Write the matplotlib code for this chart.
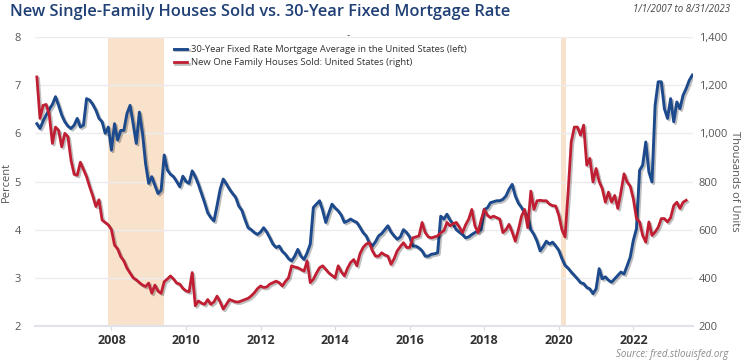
import numpy as np
import matplotlib
matplotlib.use("Agg")
import matplotlib.pyplot as plt
import matplotlib.patheffects as pe

# 30-year fixed mortgage rate, percent, monthly from Jan 2006
mortgage_rate = [
    6.20, 6.10, 6.25, 6.38, 6.50, 6.60, 6.76, 6.58, 6.38, 6.24, 6.15, 6.10,  # 2006
    6.17, 6.31, 6.13, 6.17, 6.72, 6.69, 6.60, 6.48, 6.31, 6.24, 6.00, 6.13,  # 2007
    5.65, 6.20, 5.86, 6.06, 6.06, 6.41, 6.58, 6.20, 5.79, 6.44, 6.00, 5.37,  # 2008
    4.96, 5.10, 4.92, 4.75, 4.82, 5.55, 5.24, 5.15, 5.10, 5.00, 4.89, 5.11,  # 2009
    5.00, 4.96, 5.22, 5.10, 4.94, 4.75, 4.56, 4.35, 4.25, 4.18, 4.50, 4.84,  # 2010
    5.05, 4.95, 4.84, 4.75, 4.67, 4.49, 4.40, 4.21, 4.04, 4.00, 3.94, 3.90,  # 2011
    3.95, 4.04, 3.95, 3.83, 3.70, 3.63, 3.66, 3.55, 3.49, 3.40, 3.35, 3.45,  # 2012
    3.59, 3.45, 3.38, 3.52, 3.70, 4.46, 4.53, 4.60, 4.40, 4.15, 4.35, 4.53,  # 2013
    4.45, 4.39, 4.30, 4.15, 4.18, 4.22, 4.18, 4.15, 4.05, 3.94, 3.87, 3.73,  # 2014
    3.66, 3.75, 3.87, 3.92, 4.00, 4.08, 3.95, 3.87, 3.80, 3.85, 4.00, 3.94,  # 2015
    3.85, 3.66, 3.66, 3.62, 3.56, 3.45, 3.45, 3.49, 3.50, 3.52, 4.28, 4.22,  # 2016
    4.32, 4.20, 4.11, 4.00, 3.95, 3.90, 3.83, 3.85, 3.90, 3.94, 3.97, 4.00,  # 2017
    4.42, 4.45, 4.56, 4.58, 4.60, 4.60, 4.63, 4.70, 4.84, 4.94, 4.70, 4.55,  # 2018
    4.46, 4.35, 4.28, 4.00, 3.90, 3.76, 3.56, 3.65, 3.76, 3.70, 3.74, 3.66,  # 2019
    3.57, 3.40, 3.26, 3.20, 3.12, 3.05, 2.98, 2.90, 2.88, 2.80, 2.77, 2.67,  # 2020
    2.77, 3.19, 2.98, 3.02, 2.95, 2.91, 2.98, 3.05, 3.12, 3.08, 3.25, 3.43,  # 2021
    3.78, 4.02, 5.23, 5.34, 5.82, 5.20, 4.99, 6.58, 7.07, 7.07, 6.51, 6.31,  # 2022
    6.72, 6.24, 6.65, 6.51, 6.79, 6.93, 7.10, 7.21,                          # 2023
]

# New one family houses sold, thousands of units, monthly from Jan 2006
houses_sold = [
    1234, 1062, 1116, 1120, 1076, 958, 1026, 1012, 944, 1000, 986, 888,  # 2006
    830, 826, 880, 850, 820, 778, 740, 696, 724, 640, 630, 620,          # 2007
    600, 536, 520, 488, 470, 440, 420, 400, 392, 380, 370, 364,          # 2008
    378, 336, 370, 345, 336, 384, 395, 408, 395, 378, 374, 356,          # 2009
    346, 342, 422, 284, 304, 295, 290, 310, 290, 300, 324, 300,          # 2010
    270, 290, 310, 305, 300, 300, 305, 310, 315, 325, 338, 355,          # 2011
    366, 360, 362, 374, 380, 386, 380, 366, 385, 400, 450, 445,          # 2012
    442, 435, 428, 470, 380, 394, 420, 442, 450, 435, 420, 410,          # 2013
    400, 450, 425, 408, 440, 464, 476, 450, 500, 526, 540, 546,          # 2014
    512, 490, 490, 504, 495, 490, 456, 480, 512, 530, 546, 526,          # 2015
    526, 566, 570, 574, 630, 588, 570, 566, 570, 574, 588, 595,          # 2016
    630, 616, 625, 630, 610, 588, 620, 644, 684, 616, 588, 640,          # 2017
    684, 660, 650, 656, 650, 644, 588, 600, 622, 590, 552, 600,          # 2018
    656, 684, 608, 760, 684, 720, 722, 720, 720, 706, 700, 698,          # 2019
    660, 600, 570, 756, 964, 1026, 1026, 992, 1034, 868, 896, 798,       # 2020
    854, 800, 770, 714, 756, 714, 742, 688, 756, 832, 798, 780,          # 2021
    728, 646, 632, 576, 548, 632, 576, 590, 610, 646, 646, 632,          # 2022
    650, 700, 714, 688, 714, 722,                                        # 2023
]

recessions = [(2007.91, 2009.42), (2020.05, 2020.18)]
year_ticks = [2008, 2010, 2012, 2014, 2016, 2018, 2020, 2022]
left_ticks = [2, 3, 4, 5, 6, 7, 8]
right_ticks = [200, 400, 600, 800, 1000, 1200, 1400]

blue = "#1d4a8c"
red = "#c01f33"
grey_text = "#555555"

plt.rcParams['font.family'] = ['Open Sans', 'DejaVu Sans']

x_rate = 2006 + np.arange(len(mortgage_rate)) / 12
x_sold = 2006 + np.arange(len(houses_sold)) / 12

fig = plt.figure(figsize=(7.5, 3.62), dpi=100)
ax = fig.add_axes([35 / 750, 1 - 326 / 362, (693 - 35) / 750, (326 - 37) / 362])
ax2 = ax.twinx()

# recession shading
for a, b in recessions:
    ax.axvspan(a, b, color="#f8e2cc", lw=0, zorder=0)

shadow = [pe.SimpleLineShadow(offset=(1.2, -1.2), alpha=0.25, shadow_color="k"), pe.Normal()]
l1, = ax.plot(x_rate, mortgage_rate, color=blue, lw=2.1, path_effects=shadow, zorder=3,
              label="30-Year Fixed Rate Mortgage Average in the United States (left)")
l2, = ax2.plot(x_sold, houses_sold, color=red, lw=2.0, path_effects=shadow, zorder=3,
               label="New One Family Houses Sold: United States (right)")

ax.set_xlim(2005.95, 2023.6)
ax.set_ylim(2, 8)
ax2.set_ylim(200, 1400)
ax.set_yticks(left_ticks)
ax2.set_yticks(right_ticks)
ax2.set_yticklabels([f"{v:,}" for v in right_ticks])
ax.set_xticks(year_ticks)
ax.set_xticklabels([str(y) for y in year_ticks], fontweight="bold", fontsize=9, color="#333333")

ax.grid(axis="y", color="#ececf0", lw=1)
ax.set_axisbelow(True)
for a in (ax, ax2):
    for s in a.spines.values():
        s.set_visible(False)
ax.spines["bottom"].set_visible(True)
ax.spines["bottom"].set_color("#e2e2ea")
ax.spines["bottom"].set_linewidth(1.5)

ax.tick_params(axis="x", length=3, color="#d8d8e0", pad=3)
ax.tick_params(axis="y", length=0, pad=10, labelsize=8, labelcolor=grey_text)
ax2.tick_params(axis="y", length=0, pad=4, labelsize=8, labelcolor=grey_text)

ax.set_ylabel("Percent", fontsize=8, color=grey_text)
ax.yaxis.set_label_coords((12 - 35) / 658, 0.5)
ax2.set_ylabel("Thousands of Units", fontsize=8, color=grey_text, rotation=270, va="center")
ax2.yaxis.set_label_coords((735 - 35) / 658, 0.5)

leg = ax.legend(handles=[l1, l2], loc="upper left", bbox_to_anchor=(0.205, 0.985), frameon=False,
                fontsize=6.8, handlelength=1.4, handletextpad=0.4,
                labelspacing=0.45, borderaxespad=0)
for t in leg.get_texts():
    t.set_color("#333333")

fig.text(10 / 750, 1 - 12 / 362, "New Single-Family Houses Sold vs. 30-Year Fixed Mortgage Rate",
         fontsize=11.8, fontweight="semibold", color="#1f3f75", va="center", ha="left")
fig.text(730 / 750, 1 - 9 / 362, "1/1/2007 to 8/31/2023", fontsize=7, style="italic",
         color="#444444", va="center", ha="right")
fig.text(348 / 750, 1 - 36 / 362, "-", fontsize=7, color="#444444", va="center", ha="center")
fig.text(728 / 750, 1 - 355 / 362, "Source: fred.stlouisfed.org", fontsize=7, style="italic",
         color="#8a8a8a", va="center", ha="right")

fig.savefig("out.png", dpi=100)
